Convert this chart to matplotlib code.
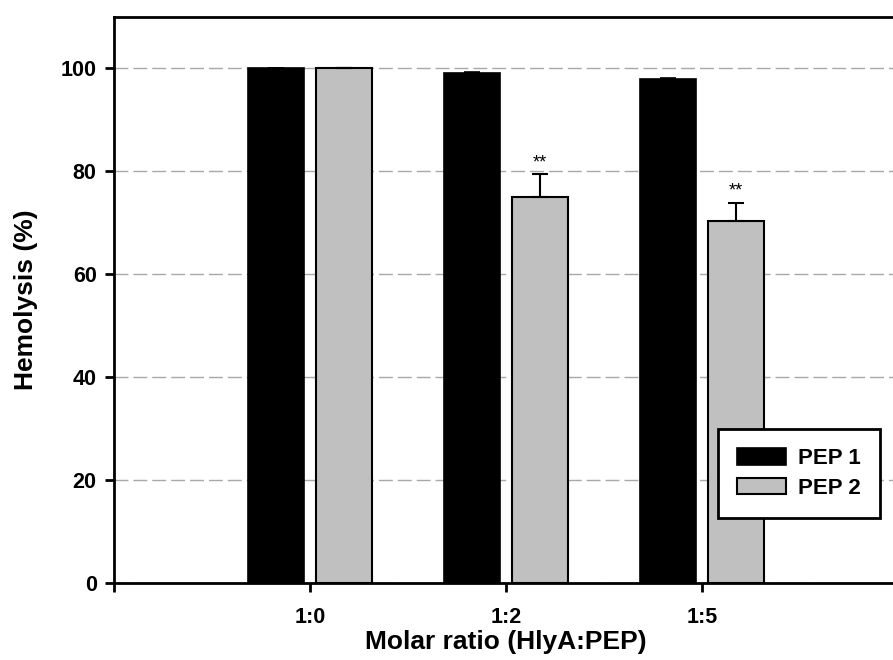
import numpy as np
import matplotlib
matplotlib.use('Agg')
import matplotlib.pyplot as plt

plt.rcParams['font.family'] = ['Liberation Sans', 'DejaVu Sans']
plt.rcParams['font.weight'] = 'bold'

# data
ratios = ['1:0', '1:2', '1:5']
pep1 = [100.0, 99.1, 98.0]
pep1_err = [0.1, 0.2, 0.2]
pep2 = [100.0, 75.0, 70.3]
pep2_err = [0.0, 4.4, 3.6]
stars = ['', '**', '**']

fig = plt.figure(figsize=(8.93, 6.6), dpi=100)
ax = fig.add_axes([114/893, 1-583/660, 784/893, 566/660])

x = np.arange(1, len(ratios)+1)
w = 0.286
off = 0.175

ax.bar(x-off, pep1, w, color='black', edgecolor='black', linewidth=1.2,
       label='PEP 1', zorder=3)
ax.bar(x+off, pep2, w, color='#c0c0c0', edgecolor='black', linewidth=1.5,
       label='PEP 2', zorder=3)
ax.errorbar(x-off, pep1, yerr=[np.zeros(3), pep1_err], fmt='none',
            ecolor='black', elinewidth=1.2, capsize=6, capthick=1.2, zorder=4)
ax.errorbar(x+off, pep2, yerr=[np.zeros(3), pep2_err], fmt='none',
            ecolor='black', elinewidth=1.5, capsize=6, capthick=1.5, zorder=4)

for xi, v, e, s in zip(x+off, pep2, pep2_err, stars):
    if s:
        ax.annotate(s, (xi, v+e), xytext=(0, 2), textcoords='offset points',
                    ha='center', va='bottom', fontsize=13, fontweight='normal')

ax.set_xlim(0, 4)
ax.set_ylim(0, 110)
ax.set_xticks([0, 1, 2, 3])
ax.set_xticklabels([''] + ratios)
ax.set_yticks([0, 20, 40, 60, 80, 100])
ax.tick_params(axis='both', labelsize=15.5, width=2, length=6.5, direction='out')
ax.tick_params(axis='x', pad=11)
ax.tick_params(axis='y', pad=6)

ax.yaxis.grid(True, color='#a8a8a8', linestyle=(0, (10, 3.6)), linewidth=1, zorder=0)
ax.set_axisbelow(True)

for sp in ax.spines.values():
    sp.set_linewidth(2)

ax.set_xlabel('Molar ratio (HlyA:PEP)', fontsize=19, fontweight='bold', labelpad=1)
ax.set_ylabel('Hemolysis (%)', fontsize=19, fontweight='bold', labelpad=16)

leg = ax.legend(loc='lower right', bbox_to_anchor=(0.977, 0.115), fontsize=16,
                fancybox=False, framealpha=1, edgecolor='black',
                handlelength=2.2, handleheight=0.75, handletextpad=0.55,
                labelspacing=0.4, borderpad=0.85, borderaxespad=0)
leg.get_frame().set_linewidth(2)

fig.savefig('out.png', dpi=100)
